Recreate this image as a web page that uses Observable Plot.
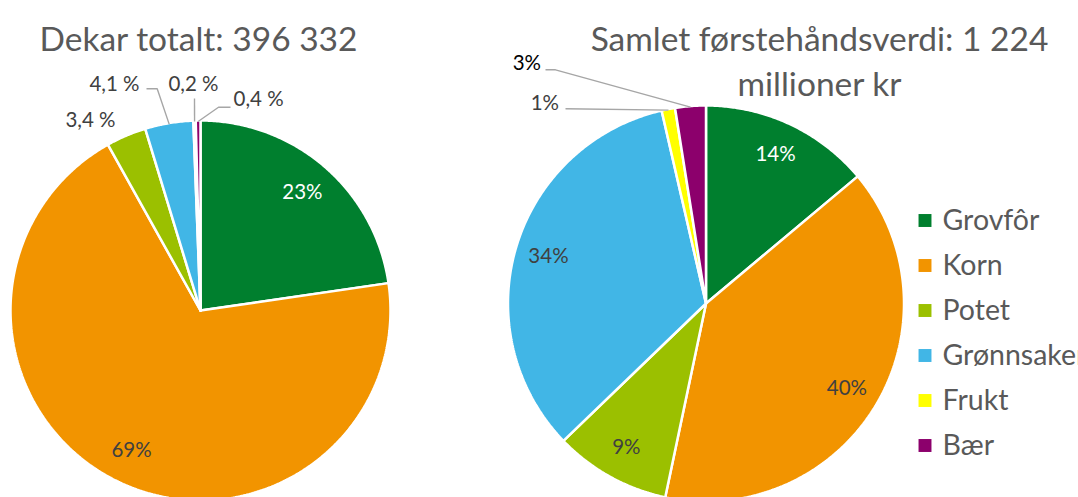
<!DOCTYPE html>
<html><head><meta charset="utf-8">
<script src="https://cdn.jsdelivr.net/npm/d3@7"></script>
<script src="https://cdn.jsdelivr.net/npm/@observablehq/plot@0.6"></script>
<style>html,body{margin:0;padding:0;background:#fff;overflow:hidden} svg{overflow:hidden;display:block}</style>
</head><body><div id="chart"></div>
<script>
// ---------- data ----------
const categories = ["Grovfôr", "Korn", "Potet", "Grønnsaker", "Frukt", "Bær"];
const colors = ["#007F2E", "#F29400", "#9BC000", "#41B6E6", "#FFFF00", "#8C006C"];

const areaTitle = "Dekar totalt: 396 332";
const areaShare = [22.7, 69.2, 3.4, 4.1, 0.2, 0.4];
const areaLabels = ["23%", "69%", "3,4 %", "4,1 %", "0,2 %", "0,4 %"];

const valueTitle = "Samlet førstehåndsverdi: 1 224\nmillioner kr";
const valueShare = [13.9, 39.4, 9.5, 33.6, 1.1, 2.5];
const valueLabels = ["14%", "40%", "9%", "34%", "1%", "3%"];

// ---------- layout ----------
const W = 1078, H = 497;
const FONT = "Lato, 'Open Sans', sans-serif";
const TITLE_SIZE = 33.5, LABEL_SIZE = 20.5, LEGEND_SIZE = 28.5;
const pies = [
  {id: "area", title: areaTitle, values: areaShare, labels: areaLabels,
   cx: 200, cy: 310, r: 190, titleX: 198, labelR: 0.82,
   outside: { // text position relative to centre, anchor, leader elbows relative to centre
     2: {dx: -85, dy: -190, anchor: "end", elbows: null},
     3: {dx: -61, dy: -226, anchor: "end", elbows: [[-54, -221.7], [-43.3, -221.7]]},
     4: {dx: -7, dy: -226, anchor: "middle", elbows: [[-6, -212]]},
     5: {dx: 33, dy: -211, anchor: "start", elbows: [[30, -203.3], [18, -203.3]]}
   }},
  {id: "value", title: valueTitle, values: valueShare, labels: valueLabels,
   cx: 705.5, cy: 303, r: 198, titleX: 819, labelR: 0.83,
   outside: {
     4: {dx: -147, dy: -200, anchor: "end", elbows: [[-140.5, -194.7]]},
     5: {dx: -165, dy: -240, anchor: "end", elbows: [[-160.5, -233.7], [-150.5, -233.7]], dark: true}
   }}
];
const legendX = 924.5, legendY0 = 220, legendStep = 45;

// ---------- geometry from data ----------
const sliceRows = [], insideRows = [], outsideRows = [], leaderRows = [];
const pt = (p, a, rr) => ({x: p.cx + rr * Math.sin(a), y: p.cy - rr * Math.cos(a)});
for (const p of pies) {
  const arcs = d3.pie().sort(null).value(d => d)(p.values);
  arcs.forEach((a, i) => {
    const key = p.id + i, cat = categories[i];
    sliceRows.push({key, cat, x: p.cx, y: p.cy});
    const n = Math.max(2, Math.ceil((a.endAngle - a.startAngle) / (Math.PI / 360)));
    for (let k = 0; k <= n; ++k) {
      const ang = a.startAngle + (a.endAngle - a.startAngle) * k / n;
      sliceRows.push({key, cat, ...pt(p, ang, p.r)});
    }
    sliceRows.push({key, cat, x: p.cx, y: p.cy});
    const mid = (a.startAngle + a.endAngle) / 2;
    const o = p.outside[i];
    if (!o) {
      const c = d3.lab(colors[i]).l < 50 ? "#ffffff" : "#404040";
      insideRows.push({...pt(p, mid, p.r * p.labelR), text: p.labels[i], color: c});
    } else {
      outsideRows.push({x: p.cx + o.dx, y: p.cy + o.dy, text: p.labels[i], anchor: o.anchor, dark: !!o.dark});
      if (o.elbows) {
        o.elbows.forEach(([ex, ey]) => leaderRows.push({key: key, x: p.cx + ex, y: p.cy + ey}));
        leaderRows.push({key, ...pt(p, mid, p.r - 1)});
      }
    }
  });
}
const titleRows = pies.map(p => ({x: p.titleX, y: 42.5 - 0.71 * TITLE_SIZE, text: p.title}));
const legendRows = categories.map((c, i) => ({cat: c, x: legendX, y: legendY0 + i * legendStep}));

const txt = (rows, opts) => Plot.text(rows, {x: "x", y: "y", text: "text", fontFamily: FONT, ...opts});

const chart = Plot.plot({
  width: W, height: H, margin: 0,
  style: {fontFamily: FONT, background: "#fff"},
  x: {domain: [0, W], range: [0, W], axis: null},
  y: {domain: [0, H], range: [0, H], axis: null},
  color: {domain: categories, range: colors},
  marks: [
    Plot.line(sliceRows, {x: "x", y: "y", z: "key", fill: "cat", stroke: "#ffffff", strokeWidth: 2.5, strokeLinejoin: "miter"}),
    Plot.line(leaderRows, {x: "x", y: "y", z: "key", stroke: "#A6A6A6", strokeWidth: 1.4, strokeLinejoin: "miter", strokeLinecap: "butt"}),
    txt(titleRows, {fontSize: TITLE_SIZE, fill: "#595959", lineAnchor: "top", lineHeight: 45 / TITLE_SIZE, textAnchor: "middle"}),
    txt(insideRows.filter(d => d.color === "#ffffff"), {fontSize: LABEL_SIZE, fill: "#ffffff"}),
    txt(insideRows.filter(d => d.color !== "#ffffff"), {fontSize: LABEL_SIZE, fill: "#404040"}),
    ...["start", "middle", "end"].map(an =>
      txt(outsideRows.filter(d => d.anchor === an && !d.dark), {fontSize: LABEL_SIZE, fill: "#404040", textAnchor: an})),
    txt(outsideRows.filter(d => d.dark), {fontSize: LABEL_SIZE, fill: "#000000", textAnchor: "end"}),
    Plot.dot(legendRows, {x: "x", y: "y", fill: "cat", symbol: "square", r: 7.3}),
    Plot.text(legendRows, {x: d => d.x + 17.5, y: "y", text: "cat", fontFamily: FONT, fontSize: LEGEND_SIZE, fill: "#595959", textAnchor: "start"})
  ]
});
document.getElementById("chart").appendChild(chart);
</script>
</body></html>
